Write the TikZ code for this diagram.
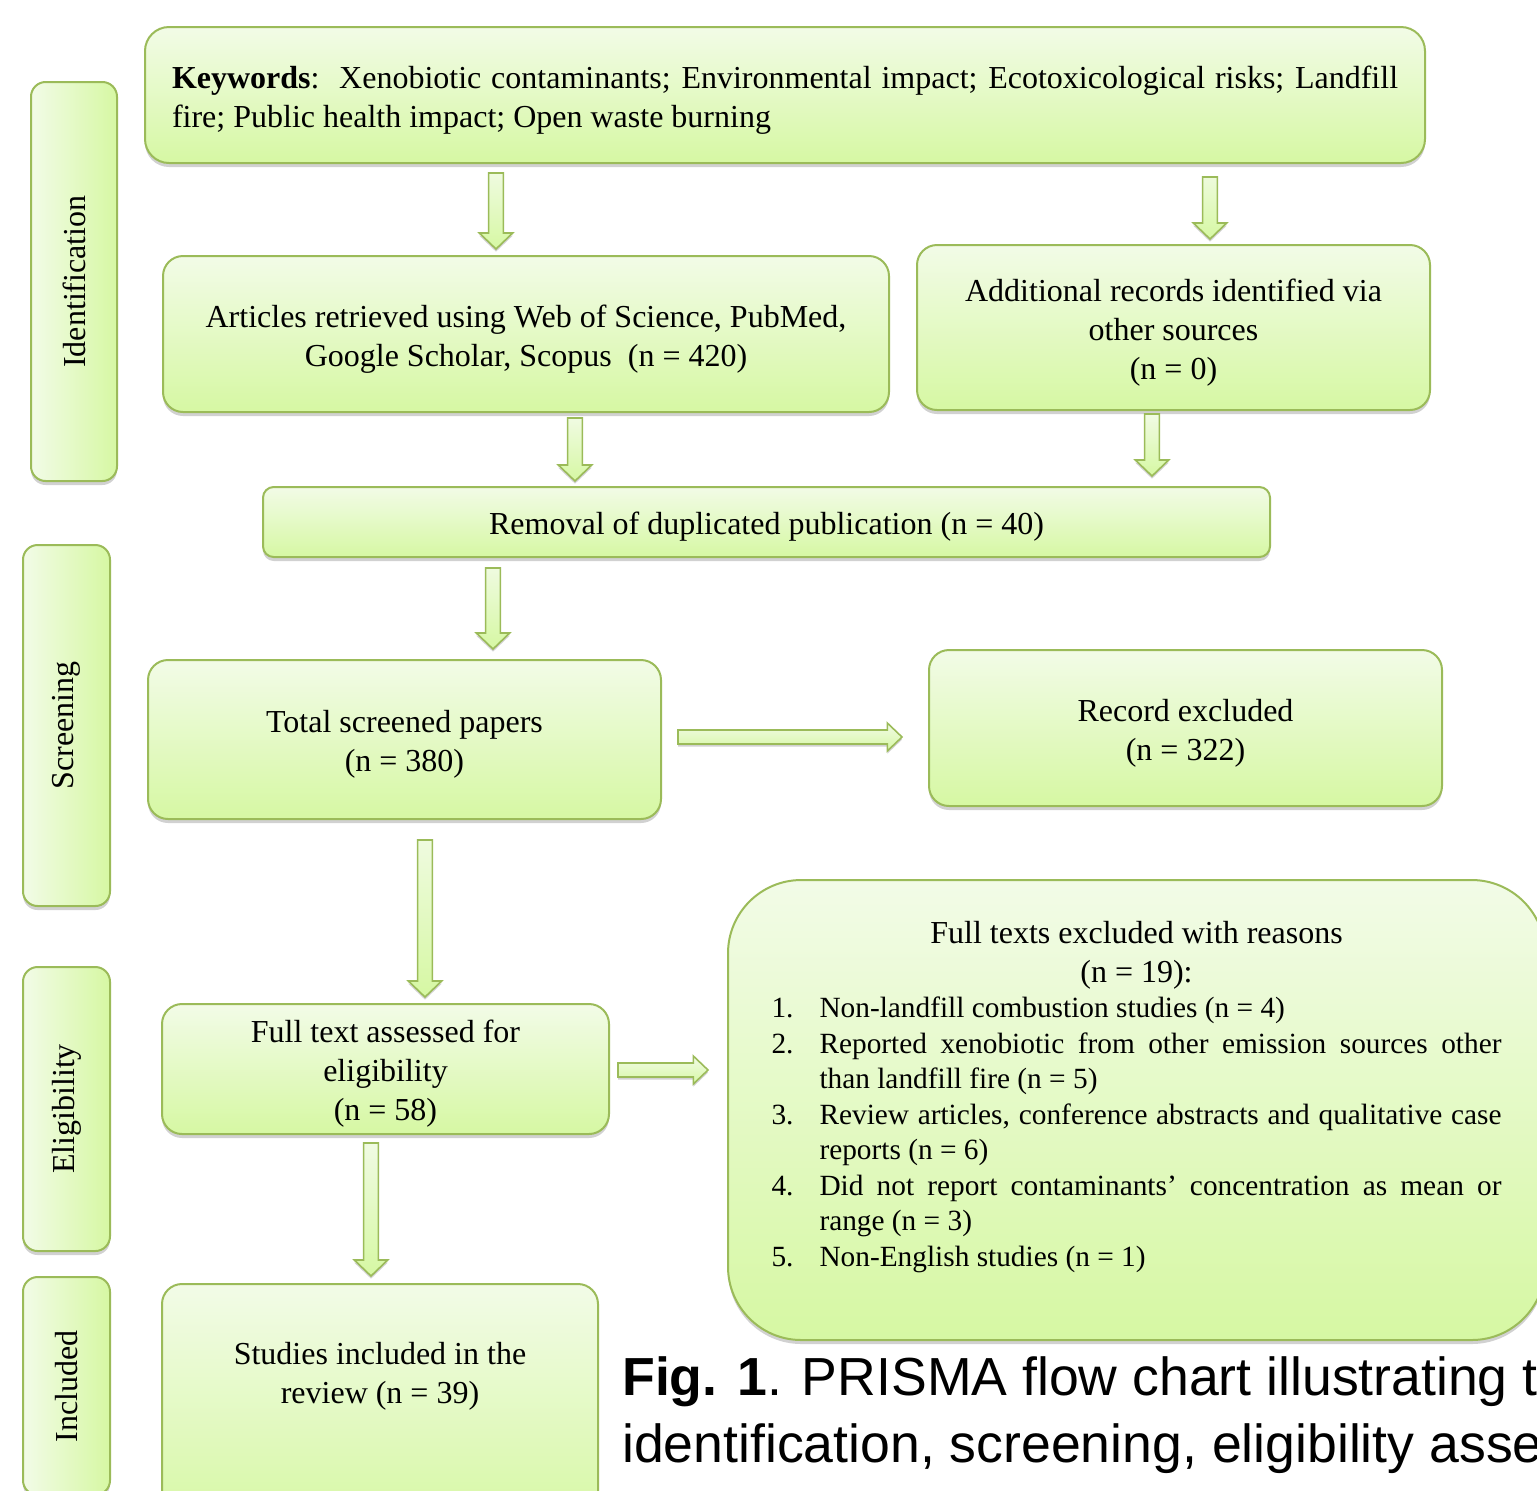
\documentclass[tikz,border=0pt]{standalone}
\usepackage{fontspec}
\setmainfont{Liberation Serif}
\newfontfamily\capfont{Liberation Sans}
\usetikzlibrary{calc,shadows}

\definecolor{boxline}{RGB}{155,187,89}
\definecolor{boxtop}{RGB}{242,251,231}
\definecolor{boxbot}{RGB}{214,248,163}

\def\arrA{6pt}
\def\arrB{4.5pt}
\newcommand{\exitem}[2]{\par\noindent\hangindent=36pt\hangafter=1\makebox[36pt][l]{#1.}#2}

\tikzset{
  boxbase/.style={draw=boxline, line width=1.5pt, inner sep=0pt,
    drop shadow={shadow xshift=0pt, shadow yshift=-3pt, opacity=0.18, fill=black},
    font=\fontsize{24pt}{29.25pt}\selectfont},
  box/.style={boxbase, rounded corners=15pt, top color=boxtop, bottom color=boxbot,
    align=flush center, execute at begin node={\rule{0pt}{24pt}}},
  side/.style={boxbase, rounded corners=11pt, left color=boxtop, right color=boxbot, rotate=90},
  arrgaps/.code 2 args={\def\arrA{#1}\def\arrB{#2}},
  blockarr/.style={draw=boxline, line width=1.2pt, top color=boxtop, bottom color=boxbot,
    drop shadow={shadow xshift=0pt, shadow yshift=-2pt, opacity=0.18, fill=black}},
  downarr/.style={blockarr, to path={let \p1=(\tikztostart), \p2=(\tikztotarget) in
    (\x1-5.5pt,\y1-\arrA) -- (\x1+5.5pt,\y1-\arrA) -- (\x1+5.5pt,\y2+\arrB+12pt) -- (\x1+12.5pt,\y2+\arrB+12pt)
    -- (\x1,\y2+\arrB) -- (\x1-12.5pt,\y2+\arrB+12pt) -- (\x1-5.5pt,\y2+\arrB+12pt) -- cycle}},
  rightarr/.style={blockarr, to path={let \p1=(\tikztostart), \p2=(\tikztotarget) in
    (\x1+\arrA,\y1+5.25pt) -- (\x2-\arrB-11pt,\y1+5.25pt) -- (\x2-\arrB-11pt,\y1+10.5pt) -- (\x2-\arrB,\y1)
    -- (\x2-\arrB-11pt,\y1-10.5pt) -- (\x2-\arrB-11pt,\y1-5.25pt) -- (\x1+\arrA,\y1-5.25pt) -- cycle}},
}

\begin{document}
\begin{tikzpicture}[x=0.75pt,y=-0.75pt]
\useasboundingbox (0,0) rectangle (1537,1490);

% stage labels
\node[side, minimum width=299.25pt, minimum height=64.5pt] (idn) at (74,281.5) {Identification};
\node[side, minimum width=270.75pt, minimum height=65.25pt] (scr) at (66.5,725.5) {Screening};
\node[side, minimum width=213pt, minimum height=65.25pt] (eli) at (66.5,1109) {Eligibility};
\node[side, minimum width=163.5pt, minimum height=65.25pt] (inl) at (66.5,1386) {Included};

% boxes
\node[box, text width=919.5pt, minimum width=960pt, minimum height=102pt, align=justify, rounded corners=18pt] (kw) at (785,95)
  {\textbf{Keywords}:\ \ Xenobiotic contaminants; Environmental impact; Ecotoxicological risks; Landfill fire; Public health impact; Open waste burning};
\node[box, text width=544.5pt, minimum height=117pt] (art) at (526,334)
  {Articles retrieved using Web of Science, PubMed,\\Google Scholar, Scopus\ \ (n = 420)};
\node[box, text width=384.75pt, minimum height=123.75pt] (add) at (1173.5,327.5)
  {Additional records identified via\\other sources\\(n = 0)};
\node[box, text width=755.25pt, minimum height=52.5pt, rounded corners=8pt] (rem) at (766.5,522)
  {Removal of duplicated publication (n = 40)};
\node[box, text width=384.75pt, minimum height=119.25pt] (tot) at (404.5,739.5)
  {Total screened papers\\(n = 380)};
\node[box, text width=384.75pt, minimum height=117pt] (rec) at (1185.5,728)
  {Record excluded\\(n = 322)};
\node[box, text width=335.25pt, minimum height=97.5pt] (ass) at (385.5,1069)
  {Full text assessed for\\eligibility\\(n = 58)};
\node[box, text width=327pt, minimum height=184.5pt] (inc) at (380,1407)
  {Studies included in the\\review (n = 39)\par\vspace*{54pt}\hrule height 0pt};
\node[box, text width=547.5pt, minimum width=612.75pt, minimum height=345pt, align=justify, rounded corners=55pt] (fte) at (1136.5,1110)
  {{\centering Full texts excluded with reasons\\(n = 19):\par}
   {\fontsize{22pt}{26.6pt}\selectfont
   \exitem{1}{Non-landfill combustion studies (n = 4)}
   \exitem{2}{Reported xenobiotic from other emission sources other than landfill fire (n = 5)}
   \exitem{3}{Review articles, conference abstracts and qualitative case reports (n = 6)}
   \exitem{4}{Did not report contaminants’ concentration as mean or range (n = 3)}
   \exitem{5}{Non-English studies (n = 1)}\par}
   \vspace*{27pt}\hrule height 0pt};

% caption
\node[anchor=base west, align=left, inner sep=0pt, font=\capfont\fontsize{40.2pt}{50pt}\selectfont] (cap) at (622,1462)
  {\textbf{Fig. 1}. PRISMA flow chart illustrating the\\identification, screening, eligibility assessment};

% block arrows
\coordinate (a1) at (496,0);
\coordinate (a2) at (1210,0);
\coordinate (a3) at (575,0);
\coordinate (a4) at (1152,0);
\coordinate (a5) at (493,0);
\coordinate (a6) at (0,737);
\coordinate (a7) at (425,0);
\coordinate (a8) at (0,1070);
\coordinate (a9) at (371,0);
\draw[downarr, arrgaps={6.75pt}{4.5pt}] (kw.south -| a1) to (art.north -| a1);
\draw[downarr, arrgaps={9.75pt}{3.75pt}] (kw.south -| a2) to (add.north -| a2);
\draw[downarr, arrgaps={3.75pt}{3.75pt}] (art.south -| a3) to (rem.north -| a3);
\draw[downarr, arrgaps={2.25pt}{7.5pt}] (add.south -| a4) to (rem.north -| a4);
\draw[downarr, arrgaps={7.5pt}{7.5pt}] (rem.south -| a5) to (tot.north -| a5);
\draw[rightarr, arrgaps={12pt}{19.5pt}] (tot.east |- a6) to (rec.west |- a6);
\draw[downarr, arrgaps={15pt}{4.5pt}] (tot.south -| a7) to (ass.north -| a7);
\draw[rightarr, arrgaps={6pt}{14.25pt}] (ass.east |- a8) to (fte.west |- a8);
\draw[downarr, arrgaps={6pt}{5.25pt}] (ass.south -| a9) to (inc.north -| a9);

\end{tikzpicture}
\end{document}
